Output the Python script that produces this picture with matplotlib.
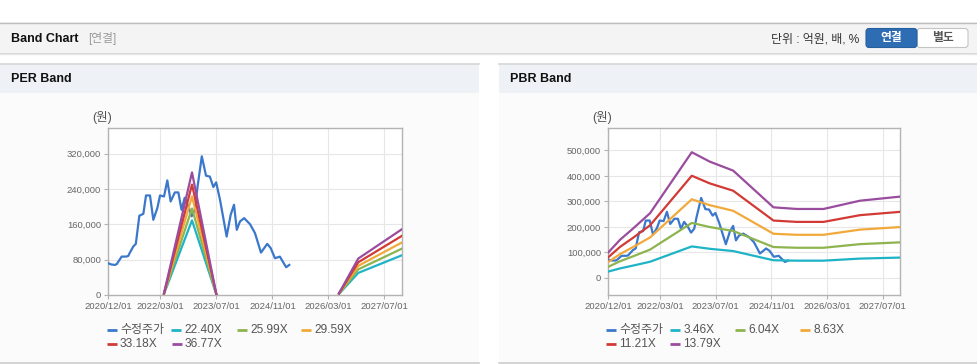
import matplotlib
matplotlib.use('Agg')
import matplotlib.pyplot as plt
from matplotlib.patches import Rectangle, FancyBboxPatch
from matplotlib.ticker import FuncFormatter

plt.rcParams['font.family'] = ['Liberation Sans', 'Noto Sans CJK KR', 'DejaVu Sans']

W, H = 978, 364
NaN = float('nan')

# ---------------- data ----------------
x_ticks = [0, 15, 31, 47, 63, 79]           # months since 2020/12
x_tick_labels = ['2020/12/01', '2022/03/01', '2023/07/01',
                 '2024/11/01', '2026/03/01', '2027/07/01']

price_month = [0, 1, 2, 2.5, 3.9, 5.2, 5.8, 6.2, 7.2, 7.95, 8.95, 10.1, 10.86, 12,
               12.95, 14.1, 14.86, 16, 16.95, 17.9, 19.1, 20.1, 21, 21.9, 23, 23.9,
               24.8, 25.5, 26.8, 28, 29.1, 30.1, 30.9, 32, 33.9, 35.05, 36, 36.8,
               37.7, 38.9, 40.6, 42, 43.7, 45.5, 46.5, 47.7, 49.1, 50.9, 51.8]
price = [71900, 69000, 68100, 70000, 86900, 87000, 88500, 95000, 109600, 115700,
         179300, 183800, 225300, 225300, 170200, 196700, 225300, 223000, 259400,
         211700, 232200, 232200, 192900, 220000, 200000, 178000, 193000, 240000,
         313900, 270100, 268000, 244400, 254900, 215600, 132300, 181600, 204300,
         147500, 166400, 174000, 160000, 140000, 96000, 115700, 106000, 83200,
         86900, 62800, 68100]

per_month = [16, 24, 31, 48, 66, 71.5, 84]
per_labels = ['22.40X', '25.99X', '29.59X', '33.18X', '36.77X']
per_b1 = [2400, 169000, 0, NaN, 2400, 50000, 90000]
per_b2 = [2700, 196000, 0, NaN, 2700, 58000, 105000]
per_b3 = [3100, 223000, 0, NaN, 3100, 66000, 119000]
per_b4 = [3500, 250000, 0, NaN, 3500, 74000, 134000]
per_b5 = [3900, 277500, 0, NaN, 3900, 82500, 149000]

pbr_month = [0, 3.5, 7.3, 12.1, 24.1, 29.3, 36, 47.6, 54.3, 62, 72.5, 84]
pbr_labels = ['3.46X', '6.04X', '8.63X', '11.21X', '13.79X']
pbr_b1 = [24800, 37700, 48900, 63700, 123700, 114400, 105600, 69500, 67900, 67900, 76000, 80000]
pbr_b2 = [43400, 65800, 85400, 111300, 215900, 199700, 184400, 121300, 118500, 118500, 132700, 139700]
pbr_b3 = [62000, 94100, 122000, 159000, 308500, 285400, 263500, 173400, 169300, 169300, 189600, 199600]
pbr_b4 = [80500, 122200, 158500, 206500, 400800, 370700, 342200, 225200, 219900, 219900, 246300, 259300]
pbr_b5 = [99000, 150300, 195000, 254000, 493000, 456000, 421000, 277000, 270600, 270600, 303000, 319000]

per_yticks = [0, 80000, 160000, 240000, 320000]
pbr_yticks = [0, 100000, 200000, 300000, 400000, 500000]

price_label = '수정주가'
price_color = '#3b78cc'
band_colors = ['#1fb3c7', '#8db44e', '#f2a93b', '#d23a35', '#9a4c9e']

# ---------------- figure ----------------
fig = plt.figure(figsize=(W / 100, H / 100), dpi=100)
bg = fig.add_axes([0, 0, 1, 1], zorder=-1)
bg.set_xlim(0, W)
bg.set_ylim(H, 0)
bg.axis('off')

def rect(x, y, w, h, fc, ec='none', lw=0):
    bg.add_patch(Rectangle((x, y), w, h, facecolor=fc, edgecolor=ec, linewidth=lw))

# top header bar
rect(0, 22, W, 30, '#f4f4f4')
bg.plot([0, W], [22.5, 22.5], color='#bdbdbd', lw=1)
bg.plot([0, W], [52.5, 52.5], color='#d2d2d2', lw=1)
bg.plot([0, W], [53.5, 53.5], color='#e9e9e9', lw=1)
bg.text(11, 38.5, 'Band Chart', fontsize=9, fontweight='bold', color='#111111',
        va='center', ha='left')
bg.text(88, 38.5, '[연결]', fontsize=8.5, color='#9a9a9a', va='center', ha='left')
bg.text(859, 39, '단위 : 억원, 배, %', fontsize=8.6, color='#333333', va='center', ha='right')
bg.add_patch(FancyBboxPatch((917, 28.5), 51, 19, boxstyle='round,pad=0,rounding_size=3',
                            facecolor='white', edgecolor='#c4c4c4', lw=0.8))
bg.add_patch(FancyBboxPatch((866, 28.5), 51, 19, boxstyle='round,pad=0,rounding_size=3',
                            facecolor='#2e6db3', edgecolor='#27609f', lw=0.8))
bg.text(891.5, 38.5, '연결', fontsize=8.5, fontweight='bold', color='white',
        va='center', ha='center')
bg.text(942.5, 38.5, '별도', fontsize=8.5, fontweight='bold', color='#555555',
        va='center', ha='center')

# panels
for px0, px1, title in [(0, 479, 'PER Band'), (499, 978, 'PBR Band')]:
    rect(px0, 64, px1 - px0, 29, '#eef2f7')
    rect(px0, 93, px1 - px0, 269, '#fbfbfb')
    bg.plot([px0, px1], [63.5, 63.5], color='#d6d6d6', lw=1.2)
    bg.plot([px0, px1], [362.5, 362.5], color='#cccccc', lw=1.2)
    bg.text(px0 + 11, 79.5, title, fontsize=9, fontweight='bold', color='#111111',
            va='center', ha='left')

def fmt(v, pos):
    return f'{int(round(v)):,}'

def make_axes(left, right, top, bottom, ylim, yticks, bands, bmonths, unit_x):
    ax = fig.add_axes([left / W, 1 - bottom / H, (right - left) / W, (bottom - top) / H])
    ax.set_facecolor('white')
    ax.plot(price_month, price, color=price_color, lw=1.6, zorder=3)
    for vals, c in zip(bands, band_colors):
        ax.plot(bmonths, vals, color=c, lw=1.6, zorder=4)
    ax.set_xlim(0, 84)
    ax.set_ylim(*ylim)
    ax.set_xticks(x_ticks)
    ax.set_xticklabels(x_tick_labels)
    ax.set_yticks(yticks)
    ax.yaxis.set_major_formatter(FuncFormatter(fmt))
    ax.grid(True, color='#e7e7e7', lw=0.8)
    ax.set_axisbelow(True)
    for s in ax.spines.values():
        s.set_color('#b3b3b3')
        s.set_linewidth(1)
    ax.tick_params(axis='both', labelsize=6.8, colors='#b3b3b3', labelcolor='#666666',
                   length=3, pad=2)
    bg.text(unit_x, 117, '(원)', fontsize=9, color='#555555', va='center', ha='left')
    return ax

make_axes(108, 402, 128, 295, (0, 378000), per_yticks,
          [per_b1, per_b2, per_b3, per_b4, per_b5], per_month, 92)
make_axes(608, 900, 128, 295, (-66700, 588000), pbr_yticks,
          [pbr_b1, pbr_b2, pbr_b3, pbr_b4, pbr_b5], pbr_month, 592)

# legends
def legend(entries, rows):
    for (lab, col), (x, y) in zip(entries, rows):
        bg.plot([x, x + 10], [y, y], color=col, lw=2, solid_capstyle='butt')
        bg.text(x + 13.5, y, lab, fontsize=8.6, color='#555555', va='center', ha='left')

per_entries = [(price_label, price_color)] + list(zip(per_labels, band_colors))
legend(per_entries, [(106.5, 330), (170.5, 330), (236.5, 330), (301, 330),
                     (106.5, 344), (171.5, 344)])
pbr_entries = [(price_label, price_color)] + list(zip(pbr_labels, band_colors))
legend(pbr_entries, [(606, 330), (670, 330), (735, 330), (800, 330),
                     (606, 344), (670, 344)])

fig.savefig('out.png', dpi=100)
